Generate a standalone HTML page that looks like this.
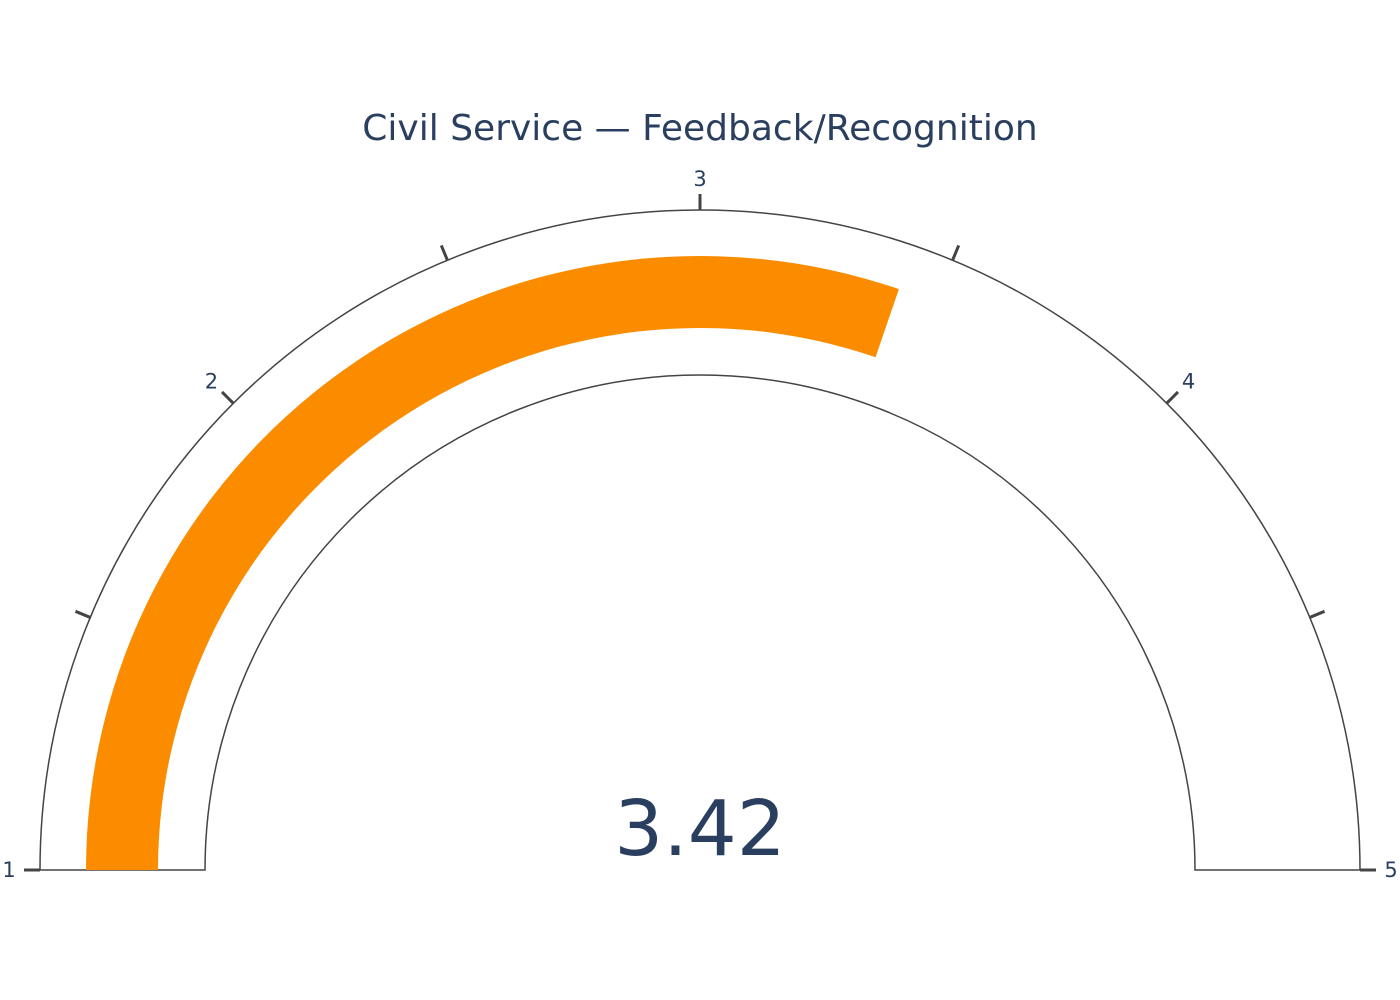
<!DOCTYPE html>
<html><head><meta charset="utf-8">
<style>
html,body{margin:0;padding:0;background:#fff;}
svg{display:block;font-family:"DejaVu Sans","Liberation Sans",sans-serif;}
</style></head>
<body>
<svg id="chart" width="1400" height="1000" viewBox="0 0 1400 1000">
  <rect width="1400" height="1000" fill="#fff"/>
  <text x="700" y="140" text-anchor="middle" font-size="36" fill="#2a3f5f">Civil Service — Feedback/Recognition</text>
  <g id="gauge"></g>
</svg>
<script>
const gaugeValue = [3.42];
const axisRange = [1, 5];
const tickValues = [1, 1.5, 2, 2.5, 3, 3.5, 4, 4.5, 5];
const tickLabels = ['1', '', '2', '', '3', '', '4', '', '5'];

const cx = 700, cy = 870, rOut = 660, rIn = 495, bIn = 542, bOut = 614;
const NS = 'http://www.w3.org/2000/svg';
const g = document.getElementById('gauge');
function ang(v){ return Math.PI * (1 - (v - axisRange[0]) / (axisRange[1] - axisRange[0])); }
function pt(r, a){ return [cx + r * Math.cos(a), cy - r * Math.sin(a)]; }
function mk(tag, attrs){ const e = document.createElementNS(NS, tag); for (const k in attrs) e.setAttribute(k, attrs[k]); g.appendChild(e); return e; }
function arcPath(r1, r2, a0, a1){
  const p0 = pt(r2, a0), p1 = pt(r2, a1), p2 = pt(r1, a1), p3 = pt(r1, a0);
  return `M${p0[0]},${p0[1]} A${r2},${r2} 0 0 1 ${p1[0]},${p1[1]} L${p2[0]},${p2[1]} A${r1},${r1} 0 0 0 ${p3[0]},${p3[1]} Z`;
}
const outline = mk('path', {d: arcPath(rIn, rOut, Math.PI, 0), fill: 'none', stroke: '#444', 'stroke-width': 1.5});


const bar = mk('path', {d: arcPath(bIn, bOut, Math.PI, ang(gaugeValue[0])), fill: '#fb8c00'});


tickValues.forEach((v, i) => {
  const a = ang(v), p0 = pt(rOut, a), p1 = pt(rOut + 16, a);
  const t = mk('line', {x1: p0[0], y1: p0[1], x2: p1[0], y2: p1[1], stroke: '#444', 'stroke-width': 3});
  
  
  if (tickLabels[i]) {
    const lp = pt(rOut + 31, a);
    const tx = mk('text', {x: lp[0], y: lp[1] + 7, 'text-anchor': 'middle', 'font-size': 21, fill: '#2a3f5f'});
    tx.textContent = tickLabels[i];
    
    
  }
});
const vt = mk('text', {x: cx, y: 855, 'text-anchor': 'middle', 'font-size': 77, fill: '#2a3f5f'});
vt.textContent = gaugeValue[0].toFixed(2);


</script>
</body></html>
